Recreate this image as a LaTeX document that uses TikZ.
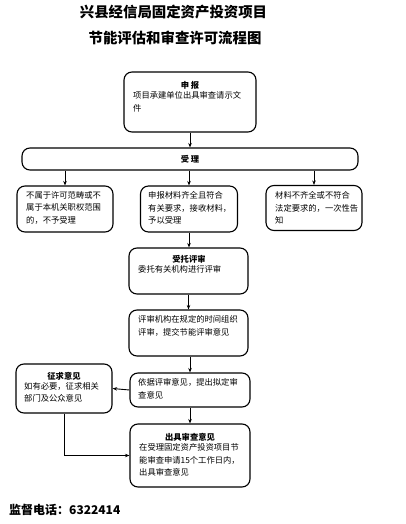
\documentclass[tikz,border=0pt]{standalone}
\usepackage{fontspec}
\setmainfont{Noto Sans CJK SC}
\usetikzlibrary{arrows.meta,positioning}
\begin{document}
\begin{tikzpicture}[x=1pt,y=-1pt,
  box/.style={draw,line width=1.1pt,rounded corners=8pt,inner sep=0pt},
  txt/.style={anchor=north west,inner sep=0pt,align=left,font=\fontsize{8.3}{12.8}\selectfont},
  hd/.style={inner sep=0pt,font=\fontsize{8.3}{10}\selectfont\bfseries},
  arr/.style={line width=0.9pt,-{Stealth[length=4.5pt,width=3.5pt]}}]
\useasboundingbox (0,0) rectangle (406,524);
% title
\node[font=\fontsize{14.4}{16}\selectfont\bfseries] (t1) at (173.5,12) {兴县经信局固定资产投资项目};
\node[font=\fontsize{14.4}{16}\selectfont\bfseries] (t2) at (175,38) {节能评估和审查许可流程图};
% boxes
\node[box,minimum width=132pt,minimum height=60pt] (sb) at (190,102) {};
\node[hd] (sbh) at (190,85) {申\ 报};
\node[txt] (sbt) at (133,91) {项目承建单位出具审查请示文\\件};
\node[box,minimum width=336pt,minimum height=22pt] (sl) at (190,159) {};
\node[hd] (slh) at (190,159) {受\ 理};
\node[box,minimum width=96pt,minimum height=46pt] (lb) at (65,209) {};
\node[txt] (lbt) at (26,191) {不属于许可范畴或不\\属于本机关职权范围\\的，不予受理};
\node[box,minimum width=97pt,minimum height=46pt] (mb) at (189,209) {};
\node[txt] (mbt) at (148,191) {申报材料齐全且符合\\有关要求，接收材料，\\予以受理};
\node[box,minimum width=96pt,minimum height=45pt] (rb) at (314,208) {};
\node[txt] (rbt) at (275,191) {材料不齐全或不符合\\法定要求的，一次性告\\知};
\node[box,minimum width=119pt,minimum height=46pt] (wt) at (188.5,271) {};
\node[hd] (wth) at (189,259) {受托评审};
\node[txt] (wtt) at (138,265) {委托有关机构进行评审};
\node[box,minimum width=119pt,minimum height=46pt] (ps) at (188.5,333) {};
\node[txt] (pst) at (138,315) {评审机构在规定的时间组织\\评审，提交节能评审意见};
\node[box,minimum width=120pt,minimum height=34pt] (yj) at (190,390) {};
\node[txt] (yjt) at (138,378) {依据评审意见，提出拟定审\\查意见};
\node[box,minimum width=96pt,minimum height=49pt] (zq) at (64,388.5) {};
\node[hd] (zqh) at (64,376) {征求意见};
\node[txt] (zqt) at (24,382) {如有必要，征求相关\\部门及公众意见};
\node[box,minimum width=120pt,minimum height=63pt] (cj) at (190,455.5) {};
\node[hd] (cjh) at (190,437) {出具审查意见};
\node[txt] (cjt) at (139,443) {在受理固定资产投资项目节\\能审查申请15个工作日内，\\出具审查意见};
% footer
\node[anchor=west,inner sep=0pt,font=\fontsize{12}{14}\selectfont\bfseries] (ft) at (9,510) {监督电话：6322414};
% connectors
\draw[arr] (sb.south) -- (sl.north);
\draw[arr] (sl.south -| lb.north) -- (lb.north);
\draw[arr] (sl.south -| mb.north) -- (mb.north);
\draw[arr] (sl.south -| rb.north) -- (rb.north);
\draw[arr] (mb.south) -- (mb.south |- wt.north);
\draw[arr] (wt.south) -- (ps.north);
\draw[arr] (ps.south -| yj.north) -- (yj.north);
\draw[arr] (yj.south) -- (cj.north);
\draw[arr] (yj.west) -- (zq.east);
\draw[arr] (zq.south) |- (cj.west);
\end{tikzpicture}
\end{document}
